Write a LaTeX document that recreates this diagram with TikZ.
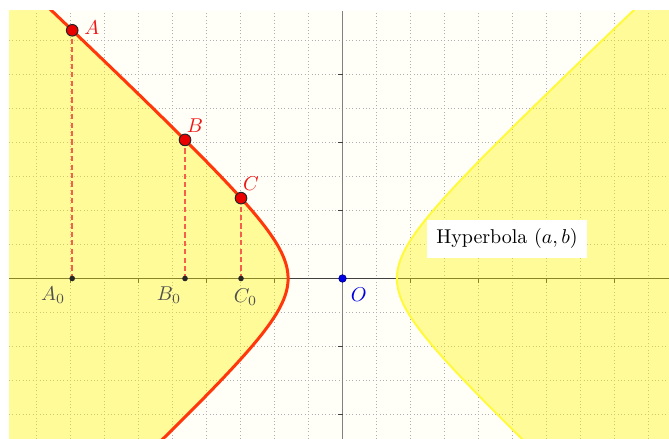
\documentclass[tikz,border=0pt]{standalone}
\usepackage{xcolor}
\definecolor{cream}{RGB}{255,255,247}
\definecolor{hypred}{RGB}{255,55,10}
\definecolor{hypyel}{RGB}{255,250,60}
\definecolor{fillyel}{RGB}{255,245,0}
\definecolor{dashred}{RGB}{245,95,75}
\definecolor{ptred}{RGB}{235,0,0}
\definecolor{lblred}{RGB}{240,20,20}
\definecolor{lblgray}{RGB}{80,80,80}
\definecolor{gridgray}{RGB}{175,175,175}
\definecolor{ptblue}{RGB}{0,0,230}
\begin{document}
\begin{tikzpicture}[x=17pt,y=17pt,
  gridline/.style={gridgray, line width=0.45pt, dash pattern=on 0.5pt off 1.2pt},
  bigpt/.style={circle, fill=ptred, draw=black!85, line width=0.5pt, inner sep=0pt, minimum size=5.8pt},
  smallpt/.style={circle, fill=black!85, inner sep=0pt, minimum size=2.8pt},
  opt/.style={circle, fill=ptblue, draw=blue!50!black, line width=0.3pt, inner sep=0pt, minimum size=3.8pt},
  dropline/.style={dashred, line width=0.8pt, dash pattern=on 2.6pt off 1.6pt},
  redlbl/.style={text=lblred, inner sep=0pt},
  graylbl/.style={text=lblgray, inner sep=0pt},
  ticklbl/.style={black!75, line width=0.5pt}
]
\useasboundingbox (-10.074,-4.721) rectangle (9.603,8.191);
\fill[white] (-10.074,-4.721) rectangle (9.603,8.191);
\fill[cream] (-9.809,-4.721) rectangle (9.603,7.868);
\begin{scope}
\clip (-9.809,-4.721) rectangle (9.603,7.868);
% grid
\foreach \x in {-9,...,9} \draw[gridline] (\x,-4.721) -- (\x,7.868);
\foreach \y in {-4,...,7} \draw[gridline] (-9.809,\y) -- (9.603,\y);
% axes
\draw[black!75, line width=0.6pt] (-9.809,0) -- (9.603,0);
\draw[black!50, line width=0.8pt] (0,-4.721) -- (0,7.868);
\foreach \x in {-8,-6,-4,-2,2,4,6,8} \draw[ticklbl] (\x,0) -- (\x,-0.12);
\foreach \y in {-4,-2,2,4,6} \draw[ticklbl] (0,\y) -- (-0.12,\y);
% filled regions
\fill[fillyel, fill opacity=0.38] plot[smooth, domain=-4.8:7.95, samples=120, variable=\t] ({-1.6*sqrt(1+(\t/1.5)^2)},\t) -- (-9.9,7.95) -- (-9.9,-4.8) -- cycle;
\fill[fillyel, fill opacity=0.38] plot[smooth, domain=-4.8:7.95, samples=120, variable=\t] ({1.6*sqrt(1+(\t/1.5)^2)},\t) -- (9.7,7.95) -- (9.7,-4.8) -- cycle;
% curves
\draw[hypyel, line width=1pt] plot[smooth, domain=-4.8:7.95, samples=120, variable=\t] ({1.6*sqrt(1+(\t/1.5)^2)},\t);
\draw[hypred, line width=1.5pt] plot[smooth, domain=-4.8:7.95, samples=120, variable=\t] ({-1.6*sqrt(1+(\t/1.5)^2)},\t);
\end{scope}
% points
\coordinate (pA) at (-7.95,7.30);
\coordinate (pB) at (-4.632,4.075);
\coordinate (pC) at (-2.985,2.363);
\coordinate (pA0) at (-7.95,0);
\coordinate (pB0) at (-4.632,0);
\coordinate (pC0) at (-2.985,0);
\draw[dropline] (pA) -- (pA0);
\draw[dropline] (pB) -- (pB0);
\draw[dropline] (pC) -- (pC0);
\node[smallpt] (A0) at (pA0) {};
\node[smallpt] (B0) at (pB0) {};
\node[smallpt] (C0) at (pC0) {};
\node[bigpt] (A) at (pA) {};
\node[bigpt] (B) at (pB) {};
\node[bigpt] (C) at (pC) {};
\node[opt] (O) at (0,0) {};
% labels
\node[redlbl] (lA) at (-7.368,7.368) {$A$};
\node[redlbl] (lB) at (-4.338,4.485) {$B$};
\node[redlbl] (lC) at (-2.691,2.779) {$C$};
\node[graylbl] (lA0) at (-8.515,-0.5) {$A_0$};
\node[graylbl] (lB0) at (-5.103,-0.5) {$B_0$};
\node[graylbl] (lC0) at (-2.853,-0.544) {$C_0$};
\node[text=ptblue, inner sep=0pt] (lO) at (0.479,-0.485) {$O$};
\node[fill=white, minimum width=80pt, minimum height=18.8pt, inner sep=0pt] (hlabel) at (4.838,1.168) {Hyperbola $(a,b)$};
\end{tikzpicture}
\end{document}
